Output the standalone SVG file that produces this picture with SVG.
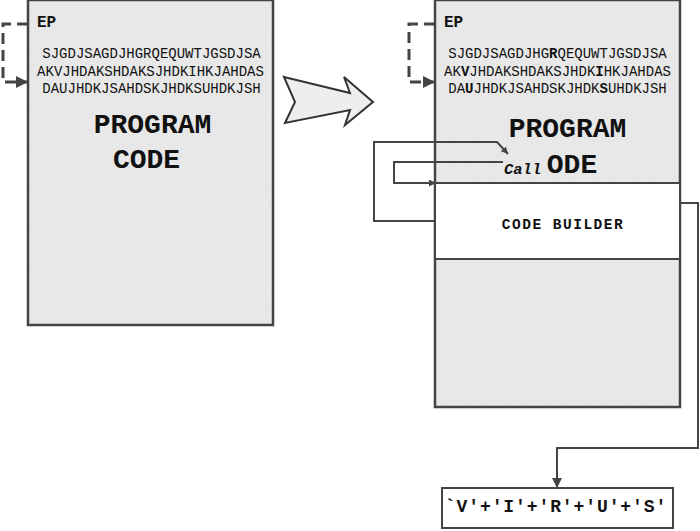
<svg xmlns="http://www.w3.org/2000/svg" width="700" height="531" viewBox="0 0 700 531">
<style>
.box{fill:url(#hatch);stroke:#444;stroke-width:2.5}
.wbox{fill:#fff;stroke:#444;stroke-width:2}
.mono{font-family:"Liberation Mono","DejaVu Sans Mono",monospace;fill:#111}
.ep{font-size:16px;font-weight:bold}
.code{font-size:14px;text-anchor:middle}
.big{font-size:28px;font-weight:bold;text-anchor:middle}
.conn{fill:none;stroke:#444;stroke-width:2}
.dash{fill:none;stroke:#444;stroke-width:3;stroke-dasharray:11 6}
</style>
<defs>
<pattern id="hatch" patternUnits="userSpaceOnUse" width="14" height="14" patternTransform="rotate(-45)">
<rect width="14" height="14" fill="#e8e8e8"/>
<line x1="0" y1="0" x2="14" y2="0" stroke="#e2e2e2" stroke-width="1"/>
</pattern>
<marker id="ah" viewBox="0 0 10 10" refX="10" refY="5" markerWidth="10" markerHeight="10" markerUnits="userSpaceOnUse" orient="auto">
<path d="M0,0 L10,5 L0,10 Z" fill="#444"/>
</marker>
<marker id="ahs" viewBox="0 0 10 10" refX="10" refY="5" markerWidth="7" markerHeight="7" markerUnits="userSpaceOnUse" orient="auto">
<path d="M0,0 L10,5 L0,10 Z" fill="#444"/>
</marker>
<marker id="ahd" viewBox="0 0 10 10" refX="10" refY="5" markerWidth="12" markerHeight="12" markerUnits="userSpaceOnUse" orient="auto">
<path d="M0,0 L10,5 L0,10 Z" fill="#444"/>
</marker>
</defs>
<rect width="700" height="531" fill="#fff"/>

<g id="original-program">
<rect class="box" x="28" y="0" width="245" height="325"/>
<text class="mono ep" x="37" y="27">EP</text>
<text class="mono code" x="151.5" y="58">SJGDJSAGDJHGRQEQUWTJGSDJSA</text>
<text class="mono code" x="150.5" y="75.5">AKVJHDAKSHDAKSJHDKIHKJAHDAS</text>
<text class="mono code" x="151.5" y="92.5">DAUJHDKJSAHDSKJHDKSUHDKJSH</text>
<text class="mono big" x="152.5" y="133">PROGRAM</text>
<text class="mono big" x="146.5" y="168">CODE</text>
</g>

<g id="transform-arrow">
<polygon points="284,77 350,93 344,77 373,102 345,125 350,110 285,123 295,102" fill="#eeeeee" stroke="#333" stroke-width="2" stroke-linejoin="miter"/>
</g>

<g id="infected-program">
<rect class="box" x="435" y="0" width="245" height="407"/>
<text class="mono ep" x="444" y="27">EP</text>
<text class="mono code" x="557.5" y="58">SJGDJSAGDJHG<tspan font-weight="bold">R</tspan>QEQUWTJGSDJSA</text>
<text class="mono code" x="557.5" y="75.5">AK<tspan font-weight="bold">V</tspan>JHDAKSHDAKSJHDK<tspan font-weight="bold">I</tspan>HKJAHDAS</text>
<text class="mono code" x="557.5" y="92.5">DA<tspan font-weight="bold">U</tspan>JHDKJSAHDSKJHDK<tspan font-weight="bold">S</tspan>UHDKJSH</text>
<text class="mono big" x="567.5" y="137">PROGRAM</text>
<text class="mono" x="504" y="174" font-size="15.5" font-weight="bold" font-style="italic">Call</text>
<text class="mono big" x="572" y="173">ODE</text>
</g>

<g id="code-builder">
<rect class="wbox" x="435" y="183" width="245" height="76"/>
<text class="mono" x="563" y="228.5" font-size="14.5" font-weight="bold" text-anchor="middle" letter-spacing="1.5">CODE BUILDER</text>
</g>

<g id="result">
<rect class="wbox" x="442" y="488" width="231" height="40"/>
<text class="mono" x="556" y="512" font-size="18" font-weight="bold" text-anchor="middle" letter-spacing="0.9">`V'+'I'+'R'+'U'+'S'</text>
</g>

<g id="connectors">
<polyline class="dash" points="28,24 3,24 3,82 18,82" />
<line x1="17" y1="82" x2="28" y2="82" stroke="#444" stroke-width="3" marker-end="url(#ahd)"/>
<polyline class="dash" points="435,24 409,24 409,82 424,82" />
<line x1="423" y1="82" x2="435" y2="82" stroke="#444" stroke-width="3" marker-end="url(#ahd)"/>
<polyline class="conn" points="435,221 374,221 374,142 497,142 508,154" marker-end="url(#ahs)"/>
<polyline class="conn" points="503,162 394,162 394,183 436,183" marker-end="url(#ahs)"/>
<polyline class="conn" points="680,203 698,203 698,448 557,448 557,488" marker-end="url(#ah)"/>
</g>
</svg>
